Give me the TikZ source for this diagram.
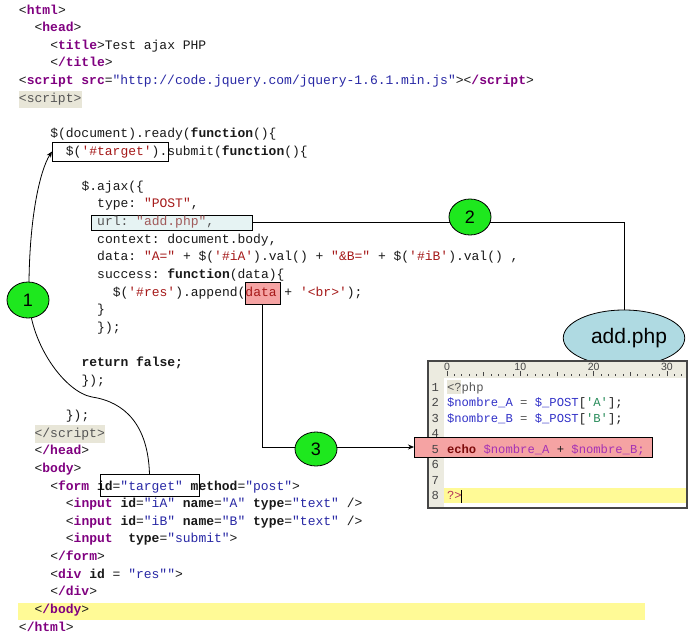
\documentclass[tikz,border=0pt]{standalone}
\usepackage{fontspec}
\setmainfont{Liberation Sans}
\setmonofont{Liberation Mono}
\usetikzlibrary{arrows.meta,shapes.geometric}
\definecolor{tagc}{RGB}{128,0,128}
\definecolor{valc}{RGB}{40,40,165}
\definecolor{strc}{RGB}{165,25,25}
\definecolor{codec}{RGB}{25,25,25}
\definecolor{dimc}{RGB}{85,85,85}
\definecolor{dimstr}{RGB}{160,90,90}
\definecolor{beigec}{RGB}{232,230,216}
\definecolor{yellowc}{RGB}{255,250,150}
\definecolor{urlfill}{RGB}{230,243,243}
\definecolor{salmonc}{RGB}{245,163,163}
\definecolor{badgec}{RGB}{30,232,30}
\definecolor{phpc}{RGB}{175,218,226}
\definecolor{framec}{RGB}{70,70,70}
\definecolor{rulerc}{RGB}{236,235,224}
\definecolor{numc}{RGB}{70,70,70}
\definecolor{pvarc}{RGB}{50,50,200}
\definecolor{pquotc}{RGB}{40,140,90}
\definecolor{pkwc}{RGB}{125,10,10}
\definecolor{pmagc}{RGB}{165,50,180}
\definecolor{pendc}{RGB}{180,50,90}
\newcommand\ctag[1]{\textcolor{tagc}{\bfseries #1}}
\newcommand\cattr[1]{{\bfseries #1}}
\newcommand\cval[1]{\textcolor{valc}{#1}}
\newcommand\cstr[1]{\textcolor{strc}{#1}}
\newcommand\ckw[1]{{\bfseries #1}}
\newcommand\codeat[4]{\node[codeline] (#3) at ({19+#1*7.82},{14+#2*17.63}) {#4};}
\newcommand\phpat[3]{\node[phpline] (#2) at (447,{391+(#1-1)*15.57}) {#3};}
\newcommand\numat[1]{\node[phpnum] (n#1) at (431.5,{391+(#1-1)*15.57}) {#1};}
\begin{document}
\begin{tikzpicture}[x=1pt,y=-1pt,
  codeline/.style={anchor=base west, inner sep=0pt, outer sep=0pt, font=\ttfamily\fontsize{13}{15}\selectfont, text=codec},
  phpline/.style={anchor=base west, inner sep=0pt, outer sep=0pt, font=\ttfamily\fontsize{12.2}{14}\selectfont, text=codec},
  phpnum/.style={phpline, text=numc},
  hlbox/.style={draw=black, line width=0.8pt, inner sep=0pt, outer sep=0pt},
  badge/.style={ellipse, draw=black, line width=0.8pt, fill=badgec, minimum width=42pt, minimum height=36pt, inner sep=0pt, font=\fontsize{18}{20}\selectfont},
  conn/.style={draw=black, line width=0.8pt},
  arrowend/.style={-{Stealth[length=6pt,width=5pt]}},
  rulernum/.style={anchor=base, inner sep=0pt, font=\fontsize{10.5}{12}\selectfont, text=numc},
  tickmark/.style={draw=numc, line width=0.7pt}
]
\useasboundingbox (0,0) rectangle (697,640);
\fill[white] (0,0) rectangle (697,640);

% background highlights
\fill[beigec] (19,91) rectangle (82,108);
\fill[beigec] (35,425) rectangle (105,443);
\fill[yellowc] (18,603) rectangle (645,620);

% highlight boxes (filled)
\node[hlbox, fill=urlfill, minimum width=161pt, minimum height=15pt] (url) at (171.5,222.5) {};
\node[hlbox, fill=salmonc, minimum width=35pt, minimum height=22pt] (data) at (262.5,293) {};

% code lines
\codeat{0}{0}{c0}{<\ctag{html}>}
\codeat{2}{1}{c1}{<\ctag{head}>}
\codeat{4}{2}{c2}{<\ctag{title}>Test ajax PHP}
\codeat{4}{3}{c3}{<\ctag{/title}>}
\codeat{0}{4}{c4}{<\ctag{script} \ctag{src}=\cval{"http://code.jquery.com/jquery-1.6.1.min.js"}><\ctag{/script}>}
\codeat{0}{5}{c5}{\textcolor{dimc}{<script>}}
\codeat{4}{7}{c7}{\$(document).ready(\ckw{function}()\{}
\codeat{6}{8}{c8}{\$(\cstr{'\#target'}).submit(\ckw{function}()\{}
\codeat{8}{10}{c10}{\$.ajax(\{}
\codeat{10}{11}{c11}{type: \cstr{"POST"},}
\codeat{10}{12}{c12}{\textcolor{dimc}{url: }\textcolor{dimstr}{"add.php"}\textcolor{dimc}{,}}
\codeat{10}{13}{c13}{context: document.body,}
\codeat{10}{14}{c14}{data: \cstr{"A="} + \$(\cstr{'\#iA'}).val() + \cstr{"\&B="} + \$(\cstr{'\#iB'}).val() ,}
\codeat{10}{15}{c15}{success: \ckw{function}(data)\{}
\codeat{12}{16}{c16}{\$(\cstr{'\#res'}).append(\cstr{data} + \cstr{'<br>'});}
\codeat{10}{17}{c17}{\}}
\codeat{10}{18}{c18}{\});}
\codeat{8}{20}{c20}{\ckw{return false;}}
\codeat{8}{21}{c21}{\});}
\codeat{6}{23}{c23}{\});}
\codeat{2}{24}{c24}{\textcolor{dimc}{</script>}}
\codeat{2}{25}{c25}{<\ctag{/head}>}
\codeat{2}{26}{c26}{<\ctag{body}>}
\codeat{4}{27}{c27}{<\ctag{form} \cattr{id}=\cval{"target"} \cattr{method}=\cval{"post"}>}
\codeat{6}{28}{c28}{<\ctag{input} \cattr{id}=\cval{"iA"} \cattr{name}=\cval{"A"} \cattr{type}=\cval{"text"} />}
\codeat{6}{29}{c29}{<\ctag{input} \cattr{id}=\cval{"iB"} \cattr{name}=\cval{"B"} \cattr{type}=\cval{"text"} />}
\codeat{6}{30}{c30}{<\ctag{input}~~\cattr{type}=\cval{"submit"}>}
\codeat{4}{31}{c31}{<\ctag{/form}>}
\codeat{4}{32}{c32}{<\ctag{div} \cattr{id} = \cval{"res""}>}
\codeat{4}{33}{c33}{<\ctag{/div}>}
\codeat{2}{34}{c34}{<\ctag{/body}>}
\codeat{0}{35}{c35}{<\ctag{/html}>}

% outline boxes
\node[hlbox, minimum width=116pt, minimum height=19pt] (target) at (110,151.5) {};
\node[hlbox, minimum width=99pt, minimum height=22pt] (form) at (149.5,485) {};

% add.php ellipse
\node[ellipse, draw=black, line width=0.8pt, fill=phpc, minimum width=114pt, minimum height=56pt, inner sep=0pt, font=\fontsize{21}{24}\selectfont] (addphp) at (624,338) {\hspace*{10pt}add.php};

% editor panel
\fill[white] (428,361) rectangle (687,508);
\fill[rulerc] (428,361) rectangle (687,378);
\fill[rulerc] (428,378) rectangle (444,508);
\fill[yellowc] (444,488) rectangle (687,503);
\fill[beigec] (447,380) rectangle (461,394);
\foreach \i in {0,...,32} {\draw[tickmark] ({447+\i*7.33},376) -- ++(0,-2);}
\foreach \i in {5,15,25} {\draw[tickmark] ({447+\i*7.33},376) -- ++(0,-4);}
\foreach \i in {0,10,20,30} {\draw[tickmark] ({447+\i*7.33},376) -- ++(0,-5.5);
  \node[rulernum] at ({447+\i*7.33},370.5) {\i};}
\numat{1}\numat{2}\numat{3}\numat{4}\numat{6}\numat{7}\numat{8}
\phpat{1}{p1}{\textcolor{dimc}{<?php}}
\phpat{2}{p2}{\textcolor{pvarc}{\$nombre\_A} \textcolor{dimc}{=} \textcolor{pvarc}{\$\_POST}[\textcolor{pquotc}{'A'}];}
\phpat{3}{p3}{\textcolor{pvarc}{\$nombre\_B} \textcolor{dimc}{=} \textcolor{pvarc}{\$\_POST}[\textcolor{pquotc}{'B'}];}
\phpat{8}{p8}{\textcolor{pendc}{?>}}
\draw[black, line width=0.8pt] (461.5,490) -- (461.5,503);
\node[draw=framec, line width=1.5pt, minimum width=259pt, minimum height=147pt, inner sep=0pt] (editor) at (557.5,434.5) {};

% line 5 highlight
\node[hlbox, fill=salmonc, minimum width=238pt, minimum height=20pt] (l5) at (533,447) {};
\numat{5}
\phpat{5}{p5}{\textcolor{pkwc}{\bfseries echo} \textcolor{pmagc}{\$nombre\_A} + \textcolor{pmagc}{\$nombre\_B;}}

% connectors
\draw[conn, arrowend] (form.north) .. controls (148,425) and (125,402) .. (92,397)
  .. controls (65,392) and (31,345) .. (29,300)
  .. controls (28,220) and (40,170) .. (target.west);
\draw[conn] (url.east) -| (addphp.north);
\draw[conn, arrowend] (data.south) |- (l5.west);

% badges
\node[badge] (b1) at (28,300) {1};
\node[badge] (b2) at (470,217) {2};
\node[badge, minimum height=34pt] (b3) at (316,449) {3};
\end{tikzpicture}
\end{document}
